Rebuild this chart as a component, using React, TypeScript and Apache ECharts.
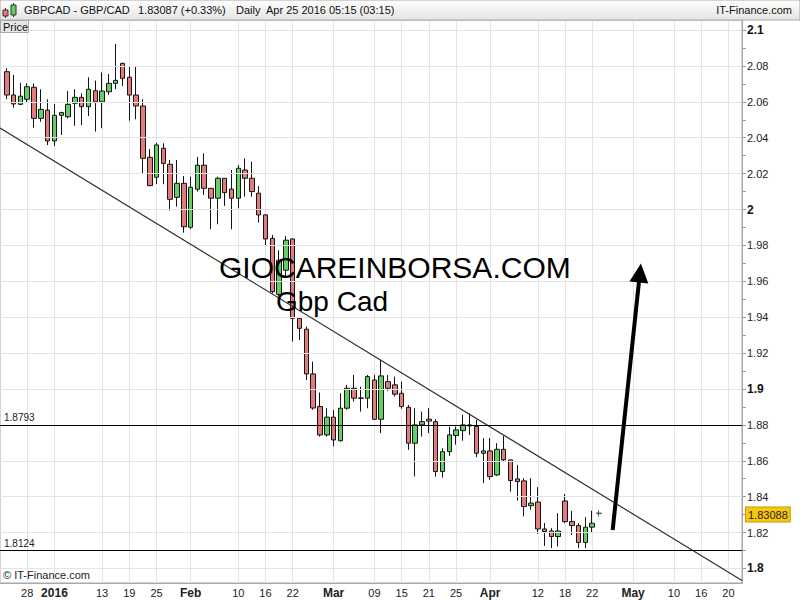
import React, { useEffect, useRef } from "react";
import * as echarts from "echarts";

// ---------- calendar (trading days shown on the category axis) ----------
const AXIS_START = "2015-12-21";
const AXIS_END = "2016-05-24";
const HOLIDAYS = ["2015-12-25", "2016-01-01"];

function buildTradingDays(start: string, end: string, skip: string[]): string[] {
  const out: string[] = [];
  const d = new Date(start + "T00:00:00Z");
  const last = new Date(end + "T00:00:00Z").getTime();
  while (d.getTime() <= last) {
    const wd = d.getUTCDay();
    const s = d.toISOString().slice(0, 10);
    if (wd !== 0 && wd !== 6 && skip.indexOf(s) < 0) out.push(s);
    d.setUTCDate(d.getUTCDate() + 1);
  }
  return out;
}
const categories = buildTradingDays(AXIS_START, AXIS_END, HOLIDAYS);

// ---------- daily candles, Dec 22 2015 .. Apr 25 2016 ----------
const FIRST_CANDLE = "2015-12-22";
const opens = [
  2.0768, 2.0638, 2.0586, 2.0614, 2.0681, 2.0508, 2.0554, 2.0382, 2.0525, 2.0517,
  2.0592, 2.0625, 2.0573, 2.0662, 2.06, 2.0656, 2.0703, 2.0814, 2.0737, 2.0638,
  2.0577, 2.0291, 2.018, 2.0341, 2.0252, 2.0068, 2.0146, 1.9901, 2.0113, 2.0247,
  2.0118, 2.0063, 2.0174, 2.0114, 2.0063, 2.022, 2.0174, 2.0091, 1.997, 1.9839,
  1.9527, 1.9662, 1.9836, 1.9394, 1.9333, 1.9084, 1.8902, 1.8744, 1.8843, 1.8712,
  1.8893, 1.9004, 1.8948, 1.8949, 1.905, 1.8831, 1.9041, 1.9023, 1.8976, 1.8898,
  1.8698, 1.88, 1.8832, 1.8818, 1.854, 1.8651, 1.8741, 1.8768, 1.88, 1.8791,
  1.8642, 1.8655, 1.8521, 1.8664, 1.8605, 1.8499, 1.8488, 1.835, 1.837, 1.822,
  1.8209, 1.8178, 1.8376, 1.8261, 1.8239, 1.8145, 1.823, 1.8306,
];
const closes = [
  2.0638, 2.0588, 2.0632, 2.0684, 2.0508, 2.0558, 2.0382, 2.0525, 2.054, 2.0586,
  2.0625, 2.0573, 2.067, 2.06, 2.066, 2.0703, 2.072, 2.0731, 2.0638, 2.0577,
  2.0285, 2.0133, 2.036, 2.0257, 2.0057, 2.0146, 1.9904, 2.0124, 2.0247, 2.0118,
  2.0063, 2.0174, 2.0094, 2.0063, 2.023, 2.0174, 2.01, 1.997, 1.9836, 1.9542,
  1.9717, 1.9829, 1.9394, 1.9338, 1.9084, 1.8894, 1.8744, 1.8843, 1.8716, 1.8893,
  1.9004, 1.8949, 1.895, 1.9069, 1.8831, 1.9073, 1.9004, 1.8971, 1.8902, 1.8698,
  1.88, 1.8818, 1.8821, 1.854, 1.8651, 1.8744, 1.8772, 1.88, 1.8794, 1.8642,
  1.8655, 1.8512, 1.8664, 1.8605, 1.849, 1.8484, 1.8345, 1.8364, 1.822, 1.8206,
  1.8178, 1.8209, 1.8261, 1.8239, 1.8145, 1.823, 1.8252, 1.83087,
];
const lows = [
  2.0614, 2.0567, 2.0582, 2.0597, 2.0456, 2.0489, 2.0359, 2.0354, 2.0415, 2.0508,
  2.0467, 2.0471, 2.0521, 2.0434, 2.0453, 2.0638, 2.0671, 2.0688, 2.0495, 2.0503,
  2.0202, 2.013, 2.0142, 2.0141, 1.9994, 2.0016, 1.9871, 1.989, 2.01, 2.0081,
  1.989, 1.9918, 2.002, 1.989, 2.0007, 2.0072, 2.0072, 1.9927, 1.9799, 1.9533,
  1.9515, 1.962, 1.9264, 1.9273, 1.905, 1.8884, 1.8735, 1.8735, 1.868, 1.8707,
  1.8884, 1.893, 1.8874, 1.8893, 1.8828, 1.8754, 1.899, 1.8958, 1.889, 1.8661,
  1.8513, 1.8735, 1.8754, 1.8512, 1.8506, 1.8627, 1.869, 1.8712, 1.8744, 1.862,
  1.8475, 1.8494, 1.8516, 1.8596, 1.8428, 1.8378, 1.829, 1.8327, 1.8193, 1.8126,
  1.8113, 1.8122, 1.8252, 1.8187, 1.8113, 1.8113, 1.8197, 1.8289,
];
const highs = [
  2.0787, 2.075, 2.0706, 2.0703, 2.0703, 2.067, 2.0614, 2.0588, 2.0545, 2.066,
  2.067, 2.0647, 2.0737, 2.0718, 2.0764, 2.0755, 2.0922, 2.0818, 2.0796, 2.0796,
  2.0614, 2.0337, 2.0372, 2.0369, 2.0276, 2.0276, 2.0187, 2.0183, 2.0294, 2.0313,
  2.0118, 2.0183, 2.0174, 2.022, 2.0248, 2.0285, 2.0267, 2.0131, 1.9975, 1.9858,
  1.9773, 1.9852, 1.984, 1.94, 1.9348, 1.9153, 1.898, 1.8893, 1.8883, 1.8976,
  1.9023, 1.9078, 1.9013, 1.9078, 1.9078, 1.9162, 1.9078, 1.9069, 1.9041, 1.8911,
  1.8893, 1.8874, 1.8893, 1.8831, 1.867, 1.8791, 1.8791, 1.8856, 1.8865, 1.8828,
  1.8726, 1.8726, 1.8698, 1.8739, 1.8605, 1.8577, 1.8503, 1.8503, 1.8453, 1.8253,
  1.8225, 1.8308, 1.8415, 1.8321, 1.8253, 1.8286, 1.8322, 1.8323,
];

// ---------- axes ----------
const Y_MIN = 1.7919;
const Y_MAX = 2.1056;
const yLabelValues = [1.8, 1.82, 1.84, 1.86, 1.88, 1.9, 1.92, 1.94, 1.96, 1.98, 2, 2.02, 2.04, 2.06, 2.08, 2.1];
const yBoldValues = [1.8, 1.9, 2, 2.1];
const yTickValues = [
  1.8, 1.81, 1.82, 1.83, 1.84, 1.85, 1.86, 1.87, 1.88, 1.89, 1.9, 1.91, 1.92, 1.93, 1.94, 1.95,
  1.96, 1.97, 1.98, 1.99, 2, 2.01, 2.02, 2.03, 2.04, 2.05, 2.06, 2.07, 2.08, 2.09, 2.1,
];
const xTickDates = [
  "2015-12-28", "2016-01-04", "2016-01-13", "2016-01-19", "2016-01-25", "2016-02-01",
  "2016-02-10", "2016-02-16", "2016-02-22", "2016-03-01", "2016-03-09", "2016-03-15",
  "2016-03-21", "2016-03-25", "2016-04-01", "2016-04-12", "2016-04-18", "2016-04-22",
  "2016-05-02", "2016-05-10", "2016-05-16", "2016-05-20",
];
const xTickLabels = [
  "28", "2016", "13", "19", "25", "Feb", "10", "16", "22", "Mar", "09", "15",
  "21", "25", "Apr", "12", "18", "22", "May", "10", "16", "20",
];
const xBoldLabels = ["2016", "Feb", "Mar", "Apr", "May"];

// ---------- annotations ----------
const LEVEL_HIGH = 1.8793;
const LEVEL_LOW = 1.8124;
const LAST_PRICE = 1.83088;
const trendStart: [string, number] = ["2015-12-21", 2.0454];
const trendEnd: [string, number] = ["2016-05-24", 1.7933];
const arrowStart: [string, number] = ["2016-04-27", 1.8214];
const arrowEnd: [string, number] = ["2016-05-03", 1.9646];

const UP_FILL = "#63cf63";
const DOWN_FILL = "#e27c7c";
const EDGE = "#141414";
const GRID_LINE = "#e4e4e4";
const FONT = '"Liberation Sans", Arial, sans-serif';

export default function App() {
  const ref = useRef<HTMLDivElement>(null);

  useEffect(() => {
    if (!ref.current) return;
    const chart = echarts.init(ref.current, undefined, { renderer: "svg" });

    const startIdx = categories.indexOf(FIRST_CANDLE);
    const rows = opens.map((o, i) => {
      const value = [categories[startIdx + i], o, closes[i], lows[i], highs[i]];
      if (i === opens.length - 1) {
        return {
          value,
          itemStyle: { color: "transparent", color0: "transparent", borderColor: "#555", borderColor0: "#555" },
        };
      }
      return { value };
    });

    const xLabelOf = (v: string) => {
      const k = xTickDates.indexOf(v);
      return k < 0 ? "" : xTickLabels[k];
    };
    const isXTick = (_i: number, v: string) => xTickDates.indexOf(v) >= 0;

    const option: any = {
      animation: false,
      backgroundColor: "#ffffff",
      textStyle: { fontFamily: FONT },
      grid: {
        left: 0,
        top: 20,
        width: 742,
        height: 563,
        show: true,
        borderColor: "#a8a8a8",
        borderWidth: 1,
        backgroundColor: "#ffffff",
        containLabel: false,
      },
      xAxis: {
        type: "category",
        data: categories,
        boundaryGap: false,
        axisLine: { show: true, lineStyle: { color: "#a8a8a8" } },
        axisTick: { show: false },
        axisLabel: {
          interval: isXTick,
          margin: 4,
          color: "#222",
          fontSize: 11,
          fontFamily: FONT,
          formatter: (v: string) => {
            const t = xLabelOf(v);
            if (!t) return "";
            return xBoldLabels.indexOf(t) >= 0 ? "{b|" + t + "}" : "{n|" + t + "}";
          },
          rich: {
            b: { fontWeight: "bold", fontSize: 12, color: "#222", fontFamily: FONT },
            n: { fontSize: 11, color: "#222", fontFamily: FONT },
          },
        },
        splitLine: { show: true, interval: isXTick, lineStyle: { color: GRID_LINE, width: 1 } },
      },
      yAxis: {
        type: "value",
        position: "right",
        min: Y_MIN,
        max: Y_MAX,
        scale: true,
        axisLine: { show: true, lineStyle: { color: "#a8a8a8" } },
        axisTick: { show: true, length: 4, customValues: yTickValues, lineStyle: { color: "#999" } },
        axisLabel: {
          customValues: yLabelValues,
          margin: 5,
          color: "#222",
          fontSize: 11,
          fontFamily: FONT,
          formatter: (v: number) => {
            const s = String(Number(v.toFixed(2)));
            const bold = yBoldValues.some((b) => Math.abs(b - v) < 1e-6);
            return bold ? "{b|" + s + "}" : "{n|" + s + "}";
          },
          rich: {
            b: { fontWeight: "bold", fontSize: 12, color: "#111", fontFamily: FONT },
            n: { fontSize: 11, color: "#222", fontFamily: FONT },
          },
        },
        splitLine: { show: false },
      },
      series: [
        {
          type: "line",
          data: [],
          z: 1,
          silent: true,
          markLine: {
            silent: true,
            symbol: ["none", "none"],
            label: { show: false },
            lineStyle: { color: GRID_LINE, type: "solid", width: 1 },
            data: yLabelValues.map((v) => ({ yAxis: v })),
          },
        },
        {
          type: "candlestick",
          z: 3,
          barWidth: 5,
          encode: { x: 0, y: [1, 2, 3, 4] },
          data: rows,
          itemStyle: {
            color: UP_FILL,
            color0: DOWN_FILL,
            borderColor: EDGE,
            borderColor0: EDGE,
            borderWidth: 1,
          },
          markLine: {
            silent: true,
            symbol: ["none", "none"],
            label: { show: false },
            lineStyle: { color: "#1a1a1a", type: "solid", width: 1 },
            data: [
              [
                { coord: trendStart, lineStyle: { color: "#303030", width: 1.2, type: "solid" } },
                { coord: trendEnd },
              ],
              {
                yAxis: LEVEL_HIGH,
                lineStyle: { color: "#000", width: 1, type: "solid" },
                label: {
                  show: true,
                  position: "insideStartTop",
                  formatter: String(LEVEL_HIGH),
                  fontSize: 10,
                  color: "#222",
                  fontFamily: FONT,
                  distance: [4, 2],
                },
              },
              {
                yAxis: LEVEL_LOW,
                lineStyle: { color: "#000", width: 1, type: "solid" },
                label: {
                  show: true,
                  position: "insideStartTop",
                  formatter: String(LEVEL_LOW),
                  fontSize: 10,
                  color: "#222",
                  fontFamily: FONT,
                  distance: [4, 2],
                },
              },
              {
                yAxis: LAST_PRICE,
                lineStyle: { color: "transparent", width: 0 },
                label: {
                  show: true,
                  position: "end",
                  distance: 4,
                  formatter: String(LAST_PRICE),
                  fontSize: 11,
                  color: "#222",
                  fontFamily: FONT,
                  backgroundColor: "#f8c60c",
                  borderColor: "#c99a00",
                  borderWidth: 1,
                  padding: [2, 2, 1, 2],
                },
              },
              [
                { coord: arrowStart, lineStyle: { color: "#000", width: 4, type: "solid" } },
                { coord: arrowEnd, symbol: "triangle", symbolSize: [19, 19] },
              ],
            ],
          },
        },
      ],
      graphic: [
        {
          type: "rect",
          z: 100,
          shape: { x: 0, y: 0, width: 800, height: 20 },
          style: {
            fill: new echarts.graphic.LinearGradient(0, 0, 0, 1, [
              { offset: 0, color: "#ffffff" },
              { offset: 1, color: "#e4e4e4" },
            ]),
            stroke: "#a8a8a8",
            lineWidth: 1,
          },
        },
        { type: "line", z: 101, shape: { x1: 5.5, y1: 8, x2: 5.5, y2: 18 }, style: { stroke: "#333", lineWidth: 1 } },
        { type: "rect", z: 102, shape: { x: 3, y: 10, width: 5, height: 6 }, style: { fill: DOWN_FILL, stroke: "#333", lineWidth: 1 } },
        { type: "line", z: 101, shape: { x1: 13.5, y1: 3, x2: 13.5, y2: 17 }, style: { stroke: "#333", lineWidth: 1 } },
        { type: "rect", z: 102, shape: { x: 11, y: 5, width: 5, height: 10 }, style: { fill: UP_FILL, stroke: "#333", lineWidth: 1 } },
        {
          type: "text", z: 103, x: 24, y: 10,
          style: { text: "GBPCAD - GBP/CAD", font: "11px " + FONT, fill: "#111", verticalAlign: "middle" },
        },
        {
          type: "text", z: 103, x: 138, y: 10,
          style: { text: "1.83087 (+0.33%)", font: "11px " + FONT, fill: "#111", verticalAlign: "middle" },
        },
        {
          type: "text", z: 103, x: 236, y: 10,
          style: { text: "Daily", font: "11px " + FONT, fill: "#111", verticalAlign: "middle" },
        },
        {
          type: "text", z: 103, x: 266, y: 10,
          style: { text: "Apr 25 2016 05:15 (03:15)", font: "11px " + FONT, fill: "#111", verticalAlign: "middle" },
        },
        {
          type: "text", z: 103, x: 792, y: 10,
          style: { text: "IT-Finance.com", font: "11px " + FONT, fill: "#111", align: "right", verticalAlign: "middle" },
        },
        {
          type: "rect", z: 100,
          shape: { x: 0.5, y: 20.5, width: 28, height: 12 },
          style: { fill: "#e6e6e6", stroke: "#a8a8a8", lineWidth: 1 },
        },
        {
          type: "text", z: 101, x: 3, y: 27,
          style: { text: "Price", font: "11px " + FONT, fill: "#111", verticalAlign: "middle" },
        },
        {
          type: "text", z: 100, x: 219, y: 267.5,
          style: { text: "GIOCAREINBORSA.COM", font: "30px " + FONT, fill: "#000", verticalAlign: "middle" },
        },
        {
          type: "text", z: 100, x: 276, y: 301,
          style: { text: "Gbp Cad", font: "28px " + FONT, fill: "#000", verticalAlign: "middle" },
        },
        {
          type: "text", z: 100, x: 3, y: 575,
          style: { text: "\u00a9 IT-Finance.com", font: "11px " + FONT, fill: "#222", verticalAlign: "middle" },
        },
      ],
    };

    chart.setOption(option);
    return () => chart.dispose();
  }, []);

  return (
    <div
      ref={ref}
      style={{ position: "absolute", left: 0, top: 0, width: 800, height: 600, background: "#fff" }}
    />
  );
}
